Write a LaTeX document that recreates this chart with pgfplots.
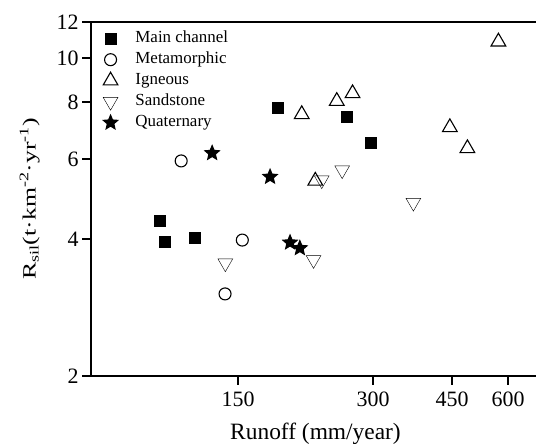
\documentclass[border=0pt]{standalone}
\usepackage{pgfplots}
\pgfplotsset{compat=1.18}
\usepackage{fontspec}
\setmainfont{Liberation Serif}
\usepackage{graphicx}

\pgfdeclareplotmark{fstar}{%
  \pgfpathmoveto{\pgfpointpolar{90}{\pgfplotmarksize}}%
  \pgfpathlineto{\pgfpointpolar{126}{0.45\pgfplotmarksize}}%
  \pgfpathlineto{\pgfpointpolar{162}{\pgfplotmarksize}}%
  \pgfpathlineto{\pgfpointpolar{198}{0.45\pgfplotmarksize}}%
  \pgfpathlineto{\pgfpointpolar{234}{\pgfplotmarksize}}%
  \pgfpathlineto{\pgfpointpolar{270}{0.45\pgfplotmarksize}}%
  \pgfpathlineto{\pgfpointpolar{306}{\pgfplotmarksize}}%
  \pgfpathlineto{\pgfpointpolar{342}{0.45\pgfplotmarksize}}%
  \pgfpathlineto{\pgfpointpolar{18}{\pgfplotmarksize}}%
  \pgfpathlineto{\pgfpointpolar{54}{0.45\pgfplotmarksize}}%
  \pgfpathclose
  \pgfusepathqfillstroke
}

\begin{document}
\begin{tikzpicture}
\begin{axis}[
  scale only axis, width=449bp, height=354bp,
  xmode=log, ymode=log,
  xmin=70.5, xmax=707, ymin=2, ymax=12,
  xtick={150,300,450,600}, xticklabels={150,300,450,600},
  ytick={2,4,6,8,10,12}, yticklabels={2,4,6,8,10,12},
  tick align=outside, xtick pos=bottom, ytick pos=left,
  major tick length=9bp,
  every tick/.style={black, line width=2.5bp},
  axis line style={line width=2.5bp},
  tick label style={font=\fontsize{22}{26}\selectfont},
  xticklabel style={yshift=-3bp},
  /pgf/number format/assume math mode=true,
  xlabel={Runoff (mm/year)},
  ylabel={\scalebox{1.1}[0.8]{R\textsubscript{sil}(t·km\textsuperscript{-2}·yr\textsuperscript{-1})}},
  label style={font=\fontsize{23.5}{28}\selectfont},
  xlabel style={yshift=-10bp},
  ylabel style={yshift=10bp},
  legend cell align=left,
  legend style={draw=none, fill=none, at={(rel axis cs:0,1)}, anchor=north west,
    xshift=12bp, yshift=-6bp, inner sep=0pt,
    font=\fontsize{17}{20}\selectfont,
    nodes={inner sep=2.5bp, text height=12bp, text depth=4bp},
    /tikz/every odd column/.append style={column sep=15bp}},
  mark options={line width=1.1bp, black},
]
\addplot[only marks, mark=square*, mark size=5.5bp, fill=black] coordinates {
 (100.5,4.38) (103.1,3.94) (120.3,4.02) (184.5,7.75) (262,7.43) (297,6.49)};
\addlegendentry{Main channel}
\addplot[only marks, mark=o, mark size=6bp] coordinates {
 (112,5.94) (153.3,3.98) (140.3,3.03)};
\addlegendentry{Metamorphic}
\addplot[only marks, mark=triangle, mark size=8.5bp] coordinates {
 (571,10.86) (208,7.52) (249,8.04) (270,8.36) (445,7.04) (487,6.33) (223,5.37)};
\addlegendentry{Igneous}
\addplot[only marks, mark=triangle, mark size=8.5bp, mark options={rotate=180}] coordinates {
 (230.5,5.39) (256,5.67) (369,4.81) (221,3.60) (140.5,3.54)};
\addlegendentry{Sandstone}
\addplot[only marks, mark=fstar, mark size=7.5bp, fill=black] coordinates {
 (131.3,6.18) (176.8,5.48) (195.9,3.93) (206,3.82)};
\addlegendentry{Quaternary}
\coordinate (bl) at (rel axis cs:0,0);
\coordinate (tr) at (rel axis cs:1,1);
\end{axis}
\pgfresetboundingbox
\path ([shift={(-91bp,-68bp)}]bl) rectangle ([shift={(-4bp,22bp)}]tr);
\end{tikzpicture}
\end{document}
